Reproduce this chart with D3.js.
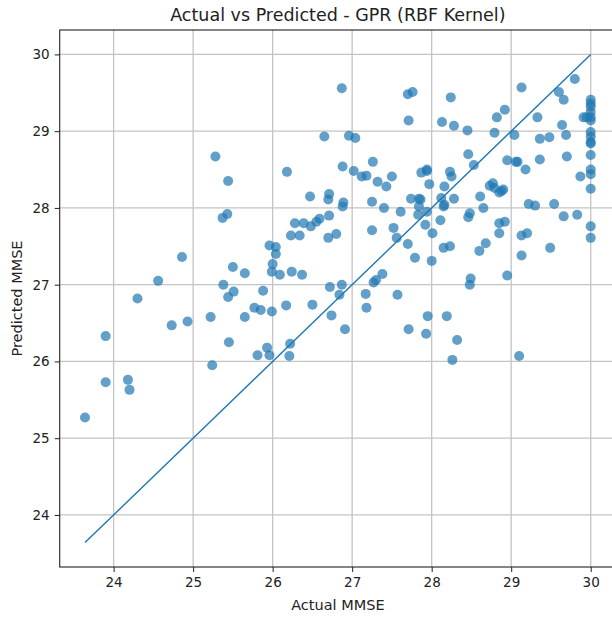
<!DOCTYPE html>
<html lang="en">
<head>
    <meta charset="UTF-8">
    <title>Actual vs Predicted - GPR (RBF Kernel)</title>
    <script src="https://cdn.jsdelivr.net/npm/d3@7"></script>
    <style>
        body { margin: 0; background: #fff; }
        svg { display: block; overflow: hidden; font-family: "DejaVu Sans", sans-serif; }
    </style>
</head>
<body>
<script>

    // actual MMSE (x) / predicted MMSE (y)
    var actual = [
        25.28, 25.44, 25.37, 25.43, 26.87, 27.70, 27.76, 28.24, 27.71, 28.13,
        26.65, 26.96, 27.04, 26.18, 26.88, 27.02, 27.12, 27.18, 27.26, 27.50,
        27.32, 27.43, 27.87, 27.94, 27.94, 27.97, 28.16, 28.23, 26.47, 26.71,
        26.70, 26.89, 26.88, 27.25, 27.40, 27.61, 27.74, 27.84, 27.86, 27.84,
        27.94, 28.12, 28.15, 26.28, 26.39, 26.48, 26.55, 26.59, 26.71, 27.83,
        27.92, 28.11, 29.13, 29.80, 29.60, 29.66,
        30, 30, 30, 30, 30, 30, 30, 30, 30, 30, 30, 30, 30, 30, 30, 30,
        29.91, 29.95, 28.28, 28.82, 28.92, 28.45, 28.79, 29.04, 29.33, 29.64,
        29.36, 29.48, 29.69, 28.46, 28.53, 28.95, 29.06, 29.08, 29.18, 29.36,
        29.70, 29.87, 28.25, 28.28, 28.16, 28.61, 28.65, 28.73, 28.77, 28.79,
        28.85, 28.90, 28.88, 28.46, 28.48, 28.85, 28.92, 29.22, 29.30, 29.54,
        29.66, 29.83, 29.13, 29.20, 29.49, 29.13, 28.85, 28.15, 28.23, 28.60,
        28.68, 28.49, 28.48, 28.95, 28.19, 28.32, 28.26, 29.10, 26.23, 26.34,
        26.70, 26.80, 27.25, 27.52, 27.56, 27.70, 27.79, 28.01, 28.00, 25.96,
        26.04, 26.04, 26.00, 25.99, 26.09, 26.24, 26.37, 25.88, 26.72, 26.87,
        26.84, 25.77, 25.85, 25.99, 26.17, 26.50, 26.74, 26.91, 27.17, 27.18,
        27.27, 27.30, 27.38, 27.57, 27.71, 27.93, 27.95, 25.93, 25.81, 25.96,
        26.22, 26.21, 24.86, 25.50, 25.65, 24.56, 24.30, 25.38, 25.51, 25.44,
        25.22, 25.65, 24.73, 24.93, 23.90, 25.45, 25.24, 23.90, 24.18, 24.20,
        23.64
    ];
    var predicted = [
        28.67, 28.35, 27.87, 27.92, 29.56, 29.48, 29.51, 29.44, 29.14, 29.12,
        28.93, 28.94, 28.91, 28.47, 28.54, 28.48, 28.41, 28.42, 28.60, 28.41,
        28.34, 28.28, 28.46, 28.50, 28.48, 28.31, 28.28, 28.47, 28.15, 28.18,
        28.11, 28.07, 28.02, 28.08, 28.00, 27.95, 28.12, 28.12, 28.11, 28.02,
        27.95, 28.13, 28.02, 27.80, 27.80, 27.76, 27.82, 27.86, 27.90, 27.91,
        27.78, 27.84, 29.57, 29.68, 29.51, 29.41,
        29.41, 29.36, 29.32, 29.25, 29.18, 29.14, 28.99, 28.93, 28.86, 28.84,
        28.69, 28.50, 28.44, 28.25, 27.76, 27.61,
        29.18, 29.18, 29.07, 29.18, 29.28, 29.01, 28.98, 28.95, 29.18, 29.08,
        28.90, 28.92, 28.95, 28.70, 28.56, 28.62, 28.60, 28.60, 28.50, 28.63,
        28.67, 28.41, 28.41, 28.12, 28.04, 28.15, 28.00, 28.29, 28.32, 28.26,
        28.20, 28.24, 28.22, 27.88, 27.93, 27.80, 27.82, 28.05, 28.03, 28.05,
        27.89, 27.91, 27.64, 27.67, 27.48, 27.38, 27.67, 27.48, 27.50, 27.44,
        27.54, 27.08, 27.00, 27.12, 26.59, 26.28, 26.02, 26.07, 27.64, 27.64,
        27.61, 27.66, 27.71, 27.74, 27.61, 27.53, 27.35, 27.67, 27.31, 27.51,
        27.49, 27.40, 27.27, 27.17, 27.13, 27.17, 27.13, 26.92, 26.97, 27.00,
        26.87, 26.70, 26.67, 26.65, 26.73, 26.74, 26.60, 26.42, 26.88, 26.70,
        27.03, 27.06, 27.14, 26.87, 26.42, 26.36, 26.59, 26.18, 26.08, 26.08,
        26.23, 26.07, 27.36, 27.23, 27.15, 27.05, 26.82, 27.00, 26.91, 26.84,
        26.58, 26.58, 26.47, 26.52, 26.33, 26.25, 25.95, 25.73, 25.76, 25.63,
        25.27
    ];
    var ticks = [24, 25, 26, 27, 28, 29, 30];

    var width = 612, height = 618;
    var plotLeft = 59.7, plotTop = 30, plotRight = 616, plotBottom = 567;

    var points = actual.map(function (d, i) { return [d, predicted[i]]; });
    var lo = d3.min(actual), hi = d3.max(actual);
    var pad = (hi - lo) * 0.05;

    var x = d3.scaleLinear().domain([lo - pad, hi + pad]).range([plotLeft, plotRight]);
    var y = d3.scaleLinear().domain([lo - pad, hi + pad]).range([plotBottom, plotTop]);

    var svg = d3.select("body").append("svg").attr("width", width).attr("height", height);

    // grid
    svg.append("g").selectAll("line").data(ticks).enter().append("line")
        .attr("x1", function (d) { return x(d); }).attr("x2", function (d) { return x(d); })
        .attr("y1", plotTop).attr("y2", plotBottom)
        .attr("stroke", "#c4c4c4").attr("stroke-width", 1.3);
    svg.append("g").selectAll("line").data(ticks).enter().append("line")
        .attr("y1", function (d) { return y(d); }).attr("y2", function (d) { return y(d); })
        .attr("x1", plotLeft).attr("x2", plotRight)
        .attr("stroke", "#c4c4c4").attr("stroke-width", 1.3);

    // points
    svg.append("g").selectAll("circle").data(points).enter().append("circle")
        .attr("cx", function (d) { return x(d[0]); })
        .attr("cy", function (d) { return y(d[1]); })
        .attr("r", 5)
        .attr("fill", "#1f77b4")
        .attr("fill-opacity", 0.7);

    // perfect prediction line
    svg.append("line")
        .attr("x1", x(lo)).attr("y1", y(lo))
        .attr("x2", x(hi)).attr("y2", y(hi))
        .attr("stroke", "#1f77b4").attr("stroke-width", 1.4);

    // axes
    var xAxis = d3.axisBottom(x).tickValues(ticks).tickSize(5).tickPadding(5).tickFormat(d3.format("d"));
    var yAxis = d3.axisLeft(y).tickValues(ticks).tickSize(5).tickPadding(5).tickFormat(d3.format("d"));

    var gx = svg.append("g").attr("transform", "translate(0," + plotBottom + ")").call(xAxis);
    var gy = svg.append("g").attr("transform", "translate(" + plotLeft + ",0)").call(yAxis);
    [gx, gy].forEach(function (g) {
        g.select(".domain").remove();
        g.selectAll("line").attr("stroke", "#222");
        g.selectAll("text").attr("font-size", "13.5px").attr("fill", "#222")
            .attr("font-family", "DejaVu Sans, sans-serif");
    });

    // frame
    svg.append("rect").attr("x", plotLeft).attr("y", plotTop)
        .attr("width", plotRight - plotLeft).attr("height", plotBottom - plotTop)
        .attr("fill", "none").attr("stroke", "#222").attr("stroke-width", 1.1);

    // labels
    svg.append("text").attr("x", (plotLeft + plotRight) / 2).attr("y", 21)
        .attr("text-anchor", "middle").attr("font-size", "17.5px").attr("fill", "#222")
        .text("Actual vs Predicted - GPR (RBF Kernel)");
    svg.append("text").attr("x", (plotLeft + plotRight) / 2).attr("y", 610)
        .attr("text-anchor", "middle").attr("font-size", "14.5px").attr("fill", "#222")
        .text("Actual MMSE");
    svg.append("text")
        .attr("transform", "translate(22," + ((plotTop + plotBottom) / 2) + ") rotate(-90)")
        .attr("text-anchor", "middle").attr("font-size", "14.5px").attr("fill", "#222")
        .text("Predicted MMSE");

</script>
</body>
</html>
